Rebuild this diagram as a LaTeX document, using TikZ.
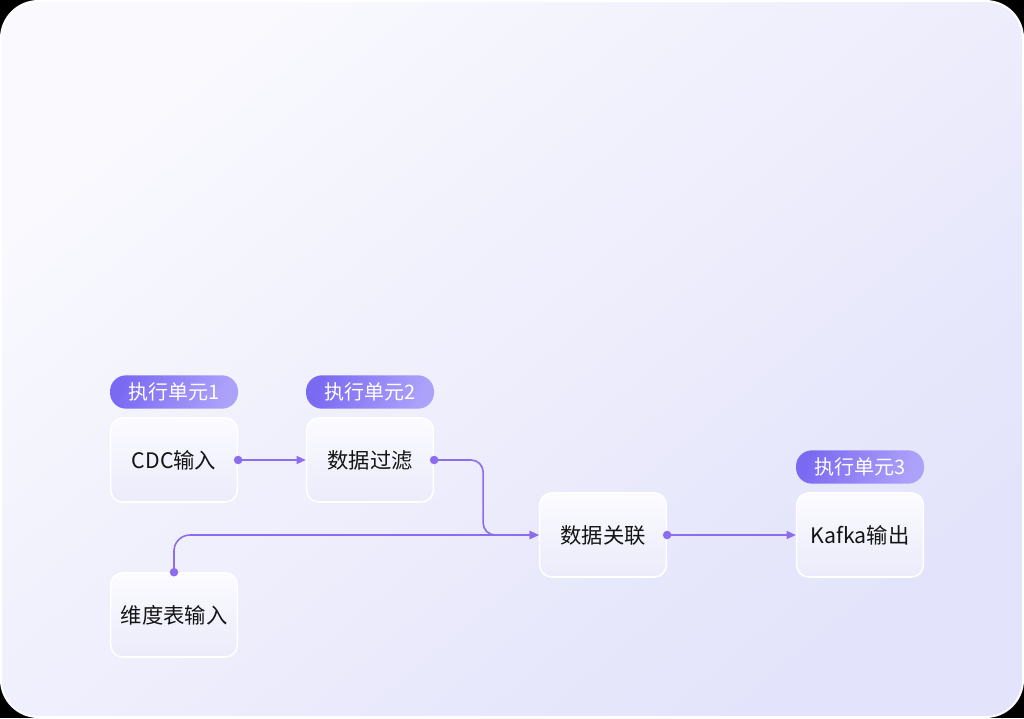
\documentclass[tikz,border=0pt]{standalone}
\usepackage{fontspec}
\setmainfont{Noto Sans CJK SC}
\usetikzlibrary{arrows.meta}

\definecolor{bglight}{HTML}{F9F9FE}
\definecolor{bgdark}{HTML}{E3E3FB}
\definecolor{boxtop}{HTML}{FBFBFF}
\definecolor{boxbottom}{HTML}{EBEBFB}
\definecolor{taglight}{HTML}{ADA2FA}
\definecolor{tagdark}{HTML}{7A6AF2}
\definecolor{flowline}{HTML}{8B6DEE}

\tikzset{
    unitbox/.style={draw=white, line width=1.2pt, rounded corners=9pt,
        top color=boxtop, bottom color=boxbottom,
        minimum width=95pt, minimum height=63pt,
        font=\fontsize{16pt}{19pt}\selectfont, text=black!92},
    unittag/.style={rounded corners=12pt, top color=tagdark, bottom color=taglight, shading angle=70,
        minimum width=96pt, minimum height=25pt, inner sep=0pt, text=white,
        font=\fontsize{15pt}{18pt}\selectfont},
    flow/.style={draw=flowline, line width=1.2pt, -{Triangle[length=7pt,width=6pt]}},
    flowdot/.style={fill=flowline}
}

\begin{document}
\begin{tikzpicture}[x=0.75pt, y=-0.75pt]
    \useasboundingbox (0,0) rectangle (1024,718);
    % card background
    \fill[black] (0,0) rectangle (1024,718);
    \shade[top color=bglight, bottom color=bgdark, shading angle=40,
        draw=white, line width=1.5pt, rounded corners=28pt] (1,1) rectangle (1023,717);

    % execution units
    \node[unitbox] (cdc) at (174,460) {CDC输入};
    \node[unitbox] (filter) at (370,460) {数据过滤};
    \node[unitbox] (dim) at (174,615) {维度表输入};
    \node[unitbox] (join) at (603,535) {数据关联};
    \node[unitbox] (kafka) at (860,535) {Kafka输出};

    % unit labels
    \node[unittag] (tag1) at (174,392) {执行单元1};
    \node[unittag] (tag2) at (370,392) {执行单元2};
    \node[unittag] (tag3) at (860,467) {执行单元3};

    % data flow
    \draw[flow] (cdc.east) -- (filter.west);
    \draw[flow, rounded corners=9pt] (filter.east) -- ++(49,0) |- (join.west);
    \draw[flow, rounded corners=12pt] (dim.north) |- (join.west);
    \draw[flow] (join.east) -- (kafka.west);
    % start dots
    \foreach \n/\a in {cdc/east, filter/east, dim/north, join/east}
        \fill[flowdot] (\n.\a) circle (3.2pt);
\end{tikzpicture}
\end{document}
